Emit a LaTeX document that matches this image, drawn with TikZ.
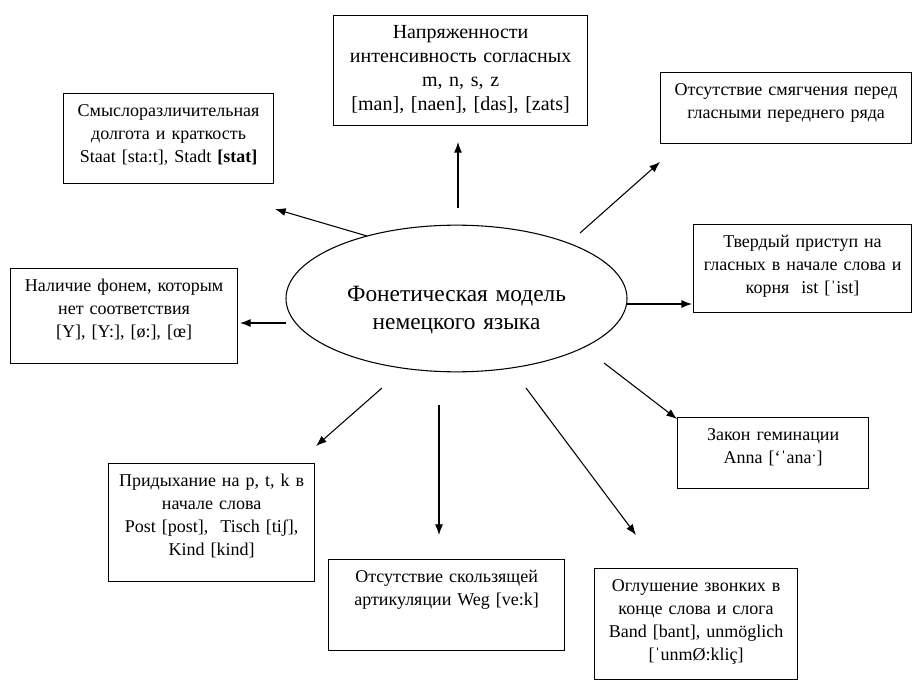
\documentclass[tikz,border=0pt]{standalone}
\usepackage{fontspec}
\setmainfont{Liberation Serif}
\usetikzlibrary{arrows.meta,shapes.geometric}

\begin{document}
\begin{tikzpicture}[x=0.75pt,y=-0.75pt,
  fact/.style 2 args={draw,line width=0.9pt,anchor=north west,align=center,
    text width=#1,inner xsep=4pt,inner ysep=4pt,text height=13.5pt,text depth=#2,
    font=\fontsize{13.5}{17.25}\selectfont},
  ray/.style={line width=0.8pt,-{Latex[length=8pt,width=6pt]}}]
\useasboundingbox (0,0) rectangle (912,680);

\node[draw,ellipse,line width=0.8pt,minimum width=255.75pt,minimum height=110pt,
  inner sep=0pt,text width=175pt,align=center,text height=29pt,text depth=25pt,
  font=\fontsize{17.5}{21}\selectfont] (model) at (456.5,298.5)
  {Фонетическая модель\\немецкого языка};

\node[fact={182.5pt}{61pt},font=\fontsize{15}{18}\selectfont] (tension) at (333,15)
  {Напряженности\\интенсивность согласных\\m, n, s, z\\{}[man], [naen], [das], [zats]};
\node[fact={149.5pt}{46pt}] (length) at (63,93)
  {Смыслоразличительная\\долгота и краткость\\Staat [sta:t], Stadt \textbf{[stat]}};
\node[fact={180.25pt}{31.75pt}] (soft) at (660,72)
  {Отсутствие смягчения перед\\гласными переднего ряда};
\node[fact={155.5pt}{44.5pt}] (onset) at (693,224)
  {Твердый приступ на\\гласных в начале слова и\\корня\ \ ist [ˈist]};
\node[fact={162.25pt}{49.75pt}] (phonemes) at (10,268)
  {Наличие фонем, которым\\нет соответствия\\{}[Y], [Y:], [ø:], [œ]};
\node[fact={135.25pt}{31.75pt}] (gemin) at (677,417)
  {Закон геминации\\Anna [ʻˈanaˑ]};
\node[fact={146.5pt}{67pt}] (aspir) at (108,463)
  {Придыхание на p, t, k в\\начале слова\\Post [post],\ \ Tisch [tiʃ],\\Kind [kind]};
\node[fact={169pt}{46.75pt}] (glide) at (328,559)
  {Отсутствие скользящей\\артикуляции Weg [ve:k]};
\node[fact={144.25pt}{61.75pt}] (devoic) at (594,568)
  {Оглушение звонких в\\конце слова и слога\\Band [bant], unmöglich\\{}[ˈunmØ:kliç]};

\coordinate (up-s) at (458,208);  \coordinate (up-e) at (458,142);
\coordinate (ul-s) at (367,236);  \coordinate (ul-e) at (275,209);
\coordinate (ur-s) at (580,233);  \coordinate (ur-e) at (660,162);
\coordinate (r-s) at (627,304);   \coordinate (r-e) at (692,304);
\coordinate (l-s) at (286,323);   \coordinate (l-e) at (240,323);
\coordinate (lr-s) at (604,363);  \coordinate (lr-e) at (677,419);
\coordinate (ll-s) at (382,388);  \coordinate (ll-e) at (316,446);
\coordinate (d-s) at (439,405);   \coordinate (d-e) at (439,535);
\coordinate (dr-s) at (526,388);  \coordinate (dr-e) at (636,535);

\draw[ray] (up-s) -- (up-e);
\draw[ray] (ul-s) -- (ul-e);
\draw[ray] (ur-s) -- (ur-e);
\draw[ray] (r-s) -- (r-e);
\draw[ray] (l-s) -- (l-e);
\draw[ray] (lr-s) -- (lr-e);
\draw[ray] (ll-s) -- (ll-e);
\draw[ray] (d-s) -- (d-e);
\draw[ray] (dr-s) -- (dr-e);
\end{tikzpicture}
\end{document}
